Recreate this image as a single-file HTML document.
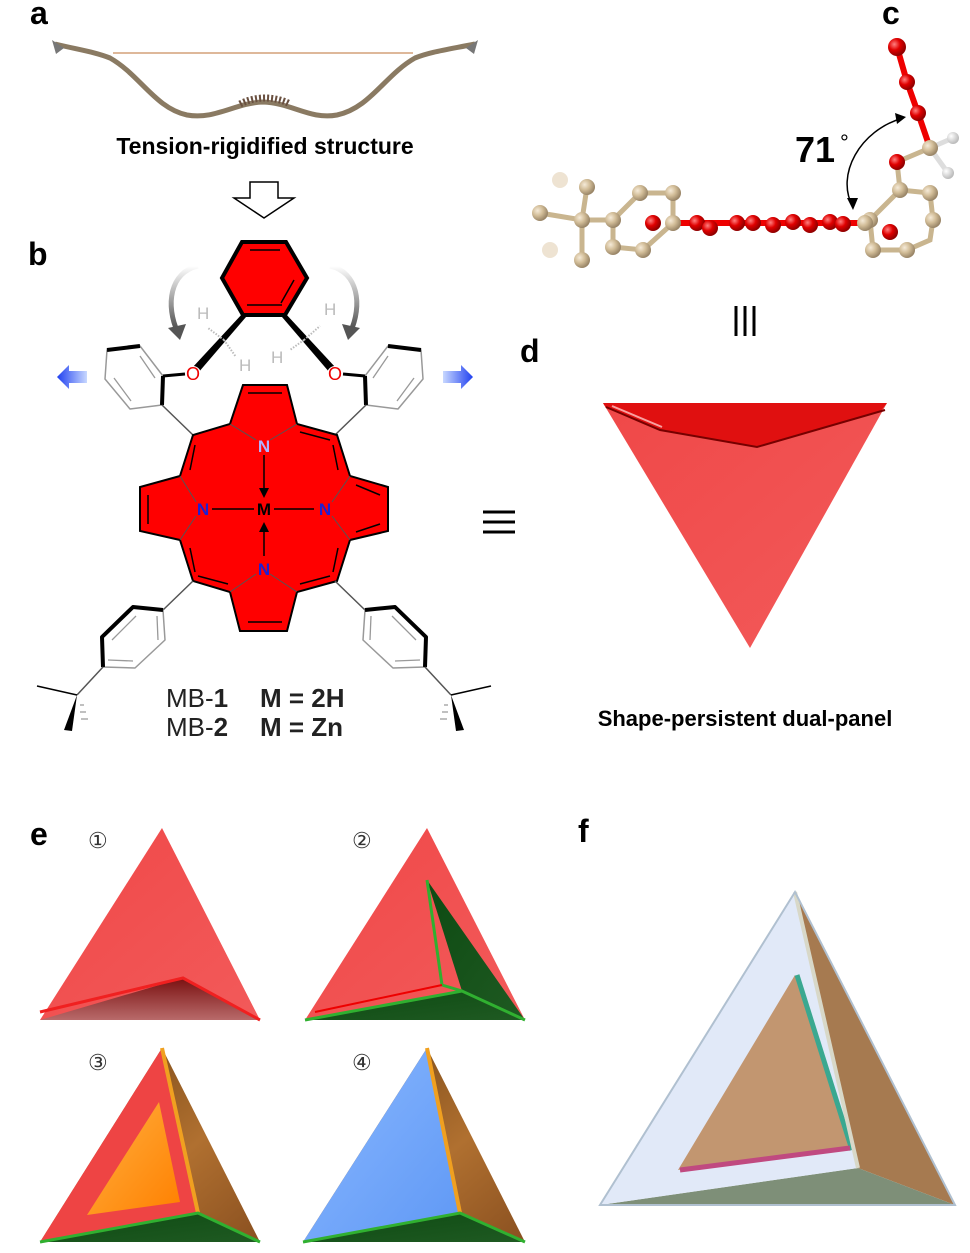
<!DOCTYPE html>
<html><head><meta charset="utf-8"><style>
html,body{margin:0;padding:0;background:#fff;}
svg{display:block;font-family:"Liberation Sans",Arial,sans-serif;}
</style></head><body>
<svg width="970" height="1253" viewBox="0 0 970 1253" xmlns="http://www.w3.org/2000/svg">
<defs>
<radialGradient id="rb" cx="35%" cy="35%" r="65%"><stop offset="0" stop-color="#ff8080"/><stop offset="0.5" stop-color="#e00000"/><stop offset="1" stop-color="#900000"/></radialGradient>
<radialGradient id="tb" cx="35%" cy="35%" r="65%"><stop offset="0" stop-color="#f5ead8"/><stop offset="0.5" stop-color="#d2bd98"/><stop offset="1" stop-color="#9a8668"/></radialGradient>
<radialGradient id="wb" cx="35%" cy="35%" r="65%"><stop offset="0" stop-color="#fff"/><stop offset="1" stop-color="#bbb"/></radialGradient>
<linearGradient id="red" x1="0" y1="0" x2="1" y2="1"><stop offset="0" stop-color="#f04848"/><stop offset="1" stop-color="#f25a5a"/></linearGradient>
<linearGradient id="dred" x1="0" y1="0" x2="0" y2="1"><stop offset="0" stop-color="#7a1010"/><stop offset="1" stop-color="#b86a6a"/></linearGradient>
<linearGradient id="dgreen" x1="0" y1="0" x2="1" y2="1"><stop offset="0" stop-color="#0d4a12"/><stop offset="1" stop-color="#1f5a22"/></linearGradient>
<linearGradient id="brown" x1="0" y1="0" x2="1" y2="1"><stop offset="0" stop-color="#6a3e10"/><stop offset="0.6" stop-color="#b07030"/><stop offset="1" stop-color="#8a5020"/></linearGradient>
<linearGradient id="orange" x1="0" y1="0" x2="1" y2="1"><stop offset="0" stop-color="#ffb040"/><stop offset="1" stop-color="#ff8000"/></linearGradient>
<linearGradient id="blue" x1="0" y1="0" x2="1" y2="1"><stop offset="0" stop-color="#8ab8ff"/><stop offset="1" stop-color="#5f98f5"/></linearGradient>
<linearGradient id="ga" x1="0" y1="0" x2="0" y2="1"><stop offset="0" stop-color="#fff"/><stop offset="1" stop-color="#444"/></linearGradient>
<linearGradient id="blueArrL" x1="1" y1="0" x2="0" y2="0"><stop offset="0" stop-color="#c8d8ff"/><stop offset="1" stop-color="#2040f0"/></linearGradient>
<linearGradient id="blueArrR" x1="0" y1="0" x2="1" y2="0"><stop offset="0" stop-color="#c8d8ff"/><stop offset="1" stop-color="#2040f0"/></linearGradient>
</defs>

<g font-weight="bold" font-size="32" fill="#000">
<text x="30" y="24">a</text>
<text x="882" y="24">c</text>
<text x="28" y="265">b</text>
<text x="520" y="362">d</text>
<text x="30" y="845">e</text>
<text x="578" y="842">f</text>
</g>

<!-- a: bow -->
<line x1="113" y1="53" x2="413" y2="53" stroke="#d4a078" stroke-width="1.5"/>
<path d="M55,44 C80,50 95,52 110,58 C140,75 155,108 187,115 C215,120 235,103 263,102 C292,103 310,120 337,115 C370,108 385,75 415,58 C430,52 445,50 475,44" fill="none" stroke="#8a7a62" stroke-width="5"/>
<path d="M52,40 l12,8 l-8,6 z M478,40 l-12,8 l8,6z" fill="#777"/>
<path d="M240,104 C255,96 275,96 290,104" fill="none" stroke="#6a5040" stroke-width="7" stroke-dasharray="2 2"/>
<text x="265" y="154" text-anchor="middle" font-weight="bold" font-size="23">Tension-rigidified structure</text>
<path d="M250,182 h28 v16 h16 l-30,20 l-30,-20 h16 z" fill="#fff" stroke="#000" stroke-width="1.5"/>

<!-- b -->
<path d="M198,266 C170,272 165,305 178,333" fill="none" stroke="url(#ga)" stroke-width="5"/>
<path d="M168,328 l12,12 l6,-16 z" fill="#555"/>
<path d="M330,266 C358,272 363,305 350,333" fill="none" stroke="url(#ga)" stroke-width="5"/>
<path d="M360,328 l-12,12 l-6,-16 z" fill="#555"/>
<polygon points="242,242 286,242 307,278 285,315 243,315 222,278" fill="#f00" stroke="#000" stroke-width="4"/>
<path d="M250,250 L280,250 M294,280 L281,303 M247,305 L282,305" stroke="#000" stroke-width="1.5"/>
<polygon points="243,313 246,317 198,373 192,368" fill="#000"/>
<polygon points="285,313 282,317 330,373 336,368" fill="#000"/>
<g stroke="#bbb" stroke-width="2" stroke-dasharray="1.5 1.5">
<line x1="224" y1="340" x2="208" y2="328"/><line x1="224" y1="340" x2="236" y2="357"/>
<line x1="304" y1="340" x2="320" y2="326"/><line x1="304" y1="340" x2="290" y2="350"/>
</g>
<g fill="#bbb" font-size="17">
<text x="197" y="319">H</text><text x="239" y="371">H</text><text x="271" y="363">H</text><text x="324" y="315">H</text>
</g>
<circle cx="193" cy="374" r="8" fill="#fff"/><circle cx="335" cy="374" r="8" fill="#fff"/>
<text x="193" y="380" fill="#e00" font-size="18" text-anchor="middle">O</text>
<text x="335" y="380" fill="#e00" font-size="18" text-anchor="middle">O</text>
<g fill="none" stroke-linejoin="round">
<polygon points="107,350 140,346 163,376 162,405 130,409 105,379" stroke="#999" stroke-width="1.5"/>
<path d="M107,350 L140,346 M163,376 L162,405" stroke="#000" stroke-width="4"/>
<path d="M114,378 L131,401 M140,356 L155,378" stroke="#999" stroke-width="1.3"/>
<line x1="163" y1="376" x2="185" y2="374" stroke="#000" stroke-width="3"/>
<line x1="162" y1="405" x2="193" y2="435" stroke="#555" stroke-width="1.5"/>
<polygon points="421,350 388,346 365,376 366,405 398,409 423,379" stroke="#999" stroke-width="1.5"/>
<path d="M421,350 L388,346 M365,376 L366,405" stroke="#000" stroke-width="4"/>
<path d="M414,378 L397,401 M388,356 L373,378" stroke="#999" stroke-width="1.3"/>
<line x1="365" y1="376" x2="343" y2="374" stroke="#000" stroke-width="3"/>
<line x1="366" y1="405" x2="335" y2="435" stroke="#555" stroke-width="1.5"/>
</g>
<path d="M87,371 h-18 v-6 l-12,12 l12,12 v-6 h18z" fill="url(#blueArrL)"/>
<path d="M443,371 h18 v-6 l12,12 l-12,12 v-6 h-18z" fill="url(#blueArrR)"/>
<polygon points="243,385 287,385 297,424 337,435 350,476 388,487 388,531 350,540 337,581 297,592 287,631 240,631 230,592 193,581 180,540 140,531 140,487 180,476 193,435 230,424" fill="#f00" stroke="#000" stroke-width="2"/>
<g stroke="#000" stroke-width="1.5">
<line x1="248" y1="393" x2="282" y2="393"/><line x1="300" y1="432" x2="330" y2="440"/>
<line x1="380" y1="495" x2="356" y2="485"/><line x1="356" y1="532" x2="380" y2="524"/>
<line x1="300" y1="584" x2="330" y2="576"/><line x1="248" y1="622" x2="282" y2="622"/>
<line x1="228" y1="584" x2="198" y2="576"/><line x1="148" y1="495" x2="148" y2="524"/>
<line x1="195" y1="445" x2="190" y2="470"/><line x1="195" y1="572" x2="190" y2="548"/>
<line x1="333" y1="445" x2="338" y2="470"/><line x1="333" y1="572" x2="338" y2="548"/>
</g>
<g stroke="#555" stroke-width="1">
<line x1="230" y1="424" x2="256" y2="440"/><line x1="297" y1="424" x2="270" y2="440"/>
<line x1="180" y1="476" x2="196" y2="502"/><line x1="180" y1="540" x2="196" y2="516"/>
<line x1="350" y1="476" x2="332" y2="502"/><line x1="350" y1="540" x2="332" y2="516"/>
<line x1="230" y1="592" x2="256" y2="574"/><line x1="297" y1="592" x2="270" y2="574"/>
</g>
<g stroke="#000" stroke-width="1.5">
<line x1="212" y1="509" x2="254" y2="509"/><line x1="274" y1="509" x2="314" y2="509"/>
<line x1="264" y1="455" x2="264" y2="492"/><line x1="264" y1="528" x2="264" y2="556"/>
</g>
<path d="M259,488 l5,10 l5,-10z M259,532 l5,-10 l5,10z" fill="#000"/>
<g font-weight="bold" font-size="17" text-anchor="middle">
<text x="264" y="452" fill="#b0b0ff">N</text>
<text x="203" y="515" fill="#2020d0">N</text>
<text x="325" y="515" fill="#2020d0">N</text>
<text x="264" y="575" fill="#2020d0">N</text>
<text x="264" y="515" fill="#000">M</text>
</g>
<g fill="none" stroke-linejoin="round">
<line x1="193" y1="581" x2="163" y2="610" stroke="#555" stroke-width="1.5"/>
<polygon points="163,610 133,607 102,637 103,667 135,668 165,640" stroke="#999" stroke-width="1.5"/>
<path d="M163,610 L133,607 L102,637 L103,667" stroke="#000" stroke-width="4"/>
<path d="M136,616 L112,640 M157,616 L158,640 M108,660 L133,661" stroke="#999" stroke-width="1.3"/>
<line x1="103" y1="667" x2="77" y2="695" stroke="#555" stroke-width="1.5"/>
<line x1="77" y1="695" x2="37" y2="686" stroke="#000" stroke-width="1.5"/>
<line x1="335" y1="581" x2="365" y2="610" stroke="#555" stroke-width="1.5"/>
<polygon points="365,610 395,607 426,637 425,667 393,668 363,640" stroke="#999" stroke-width="1.5"/>
<path d="M365,610 L395,607 L426,637 L425,667" stroke="#000" stroke-width="4"/>
<path d="M392,616 L416,640 M371,616 L370,640 M420,660 L395,661" stroke="#999" stroke-width="1.3"/>
<line x1="425" y1="667" x2="451" y2="695" stroke="#555" stroke-width="1.5"/>
<line x1="451" y1="695" x2="491" y2="686" stroke="#000" stroke-width="1.5"/>
</g>
<polygon points="77,695 64,730 72,731" fill="#000"/>
<polygon points="451,695 464,730 456,731" fill="#000"/>
<g stroke="#aaa" stroke-width="1.5"><line x1="80" y1="705" x2="84" y2="705"/><line x1="80" y1="712" x2="86" y2="712"/><line x1="81" y1="719" x2="88" y2="719"/><line x1="448" y1="705" x2="444" y2="705"/><line x1="448" y1="712" x2="442" y2="712"/><line x1="447" y1="719" x2="440" y2="719"/></g>
<g font-size="26" fill="#222">
<text x="166" y="707">MB-<tspan font-weight="bold">1</tspan>  <tspan font-weight="bold" x="260">M = 2H</tspan></text>
<text x="166" y="736">MB-<tspan font-weight="bold">2</tspan>  <tspan font-weight="bold" x="260">M = Zn</tspan></text>
</g>

<g stroke="#000" stroke-width="3">
<line x1="483" y1="512" x2="515" y2="512"/><line x1="483" y1="522" x2="515" y2="522"/><line x1="483" y1="532" x2="515" y2="532"/>
<line x1="736" y1="306" x2="736" y2="336"/><line x1="745" y1="306" x2="745" y2="336"/><line x1="754" y1="306" x2="754" y2="336"/>
</g>

<!-- c -->
<path d="M853,207 C835,175 860,130 903,118" fill="none" stroke="#000" stroke-width="1.5"/>
<path d="M847,198 l6,12 l5,-12z M895,113 l11,4 l-9,7z" fill="#000"/>
<text x="795" y="162" font-weight="bold" font-size="36">71</text><text x="840" y="150" font-size="22">°</text>
<g stroke="#c9b58f" stroke-width="5" fill="none">
<path d="M540,213 L582,220 L587,187 M582,220 L582,260 M582,220 L613,220 L640,193 L673,193 L673,223 L643,250 L613,247 L613,220"/>
<path d="M930,148 L897,162 L900,190 L930,193 L933,220 L930,240 L907,250 L873,250 L870,220 L900,190"/>
<path d="M930,148 L953,138 M930,148 L948,173" stroke="#ddd"/>
</g>
<g stroke="#e00" stroke-width="6" fill="none"><line x1="673" y1="223" x2="860" y2="223"/><path d="M897,47 L907,82 L918,113 L930,148"/></g>
<circle cx="560" cy="180" r="8" fill="#eee3d2"/><circle cx="550" cy="250" r="8" fill="#eee3d2"/>
<g fill="url(#tb)">
<circle cx="540" cy="213" r="8"/><circle cx="587" cy="187" r="8"/><circle cx="582" cy="220" r="8"/><circle cx="582" cy="260" r="8"/><circle cx="613" cy="220" r="8"/><circle cx="640" cy="193" r="8"/><circle cx="673" cy="193" r="8"/><circle cx="613" cy="247" r="8"/><circle cx="643" cy="250" r="8"/>
<circle cx="930" cy="148" r="8"/><circle cx="900" cy="190" r="8"/><circle cx="930" cy="193" r="8"/><circle cx="933" cy="220" r="8"/><circle cx="907" cy="250" r="8"/><circle cx="873" cy="250" r="8"/><circle cx="870" cy="220" r="8"/>
</g>
<g fill="url(#rb)">
<circle cx="653" cy="223" r="8"/><circle cx="697" cy="223" r="8"/><circle cx="710" cy="228" r="8"/><circle cx="737" cy="223" r="8"/><circle cx="753" cy="223" r="8"/><circle cx="773" cy="225" r="8"/><circle cx="793" cy="222" r="8"/><circle cx="810" cy="225" r="8"/><circle cx="830" cy="222" r="8"/><circle cx="843" cy="224" r="8"/><circle cx="890" cy="232" r="8"/>
<circle cx="897" cy="47" r="9"/><circle cx="907" cy="82" r="8"/><circle cx="918" cy="113" r="8"/><circle cx="897" cy="162" r="8"/>
</g>
<circle cx="673" cy="223" r="8" fill="url(#tb)"/><circle cx="865" cy="223" r="8" fill="url(#tb)"/>
<circle cx="953" cy="138" r="6" fill="url(#wb)"/><circle cx="948" cy="173" r="6" fill="url(#wb)"/>

<!-- d -->
<polygon points="603,403 887,403 750,648" fill="url(#red)"/>
<polygon points="603,403 887,403 880,412 757,447 660,430 606,408" fill="#e01010"/>
<path d="M606,407 L660,430 L757,447 L885,410" fill="none" stroke="#700" stroke-width="2"/>
<path d="M612,406 L662,427" stroke="#f8a0a0" stroke-width="2"/>
<text x="745" y="726" text-anchor="middle" font-weight="bold" font-size="22">Shape-persistent dual-panel</text>

<g font-size="22" fill="#333">
<text x="88" y="848">①</text><text x="352" y="848">②</text><text x="88" y="1070">③</text><text x="352" y="1070">④</text>
</g>
<polygon points="40,1020 162,828 260,1020" fill="url(#red)"/>
<polygon points="40,1020 183,978 260,1020" fill="url(#dred)"/>
<path d="M40,1012 L183,978 L260,1020" fill="none" stroke="#f02020" stroke-width="3"/>
<polygon points="305,1020 427,828 525,1020" fill="url(#red)"/>
<polygon points="427,880 462,991 525,1020" fill="url(#dgreen)"/>
<polygon points="305,1020 462,991 525,1020" fill="url(#dgreen)"/>
<path d="M305,1020 L462,991 L525,1020 M427,880 L442,985 L462,991" fill="none" stroke="#30b030" stroke-width="3"/>
<path d="M315,1012 L442,985" stroke="#e00" stroke-width="2"/>
<polygon points="40,1242 162,1048 260,1242" fill="url(#brown)"/>
<polygon points="40,1242 162,1048 198,1213" fill="#ee4444"/>
<polygon points="159,1102 87,1215 180,1202" fill="url(#orange)"/>
<polygon points="40,1242 198,1213 260,1242" fill="url(#dgreen)"/>
<path d="M162,1048 L198,1213" stroke="#f0a020" stroke-width="4"/>
<path d="M40,1242 L198,1213 L260,1242" fill="none" stroke="#30b030" stroke-width="3"/>
<polygon points="303,1242 427,1048 525,1242" fill="url(#brown)"/>
<polygon points="303,1242 427,1048 460,1213" fill="url(#blue)"/>
<polygon points="303,1242 460,1213 525,1242" fill="url(#dgreen)"/>
<path d="M427,1048 L460,1213" stroke="#f0a020" stroke-width="4"/>
<path d="M303,1242 L460,1213 L525,1242" fill="none" stroke="#30b030" stroke-width="3"/>

<!-- f -->
<polygon points="795,892 858,1168 955,1205" fill="#a67a50"/>
<polygon points="600,1205 858,1168 955,1205" fill="#7e8f78"/>
<polygon points="795,892 600,1205 858,1168" fill="#dfe8f8" fill-opacity="0.95"/>
<polygon points="795,975 678,1170 850,1148" fill="#c29670"/>
<path d="M797,975 L852,1150" stroke="#3aa890" stroke-width="5"/>
<path d="M680,1170 L850,1148" stroke="#c04a80" stroke-width="5"/>
<path d="M795,892 L858,1168" stroke="#d8d8c8" stroke-width="4"/>
<path d="M795,892 L600,1205 L955,1205 Z" fill="none" stroke="#b0c0d0" stroke-width="2"/>
</svg>
</body></html>
